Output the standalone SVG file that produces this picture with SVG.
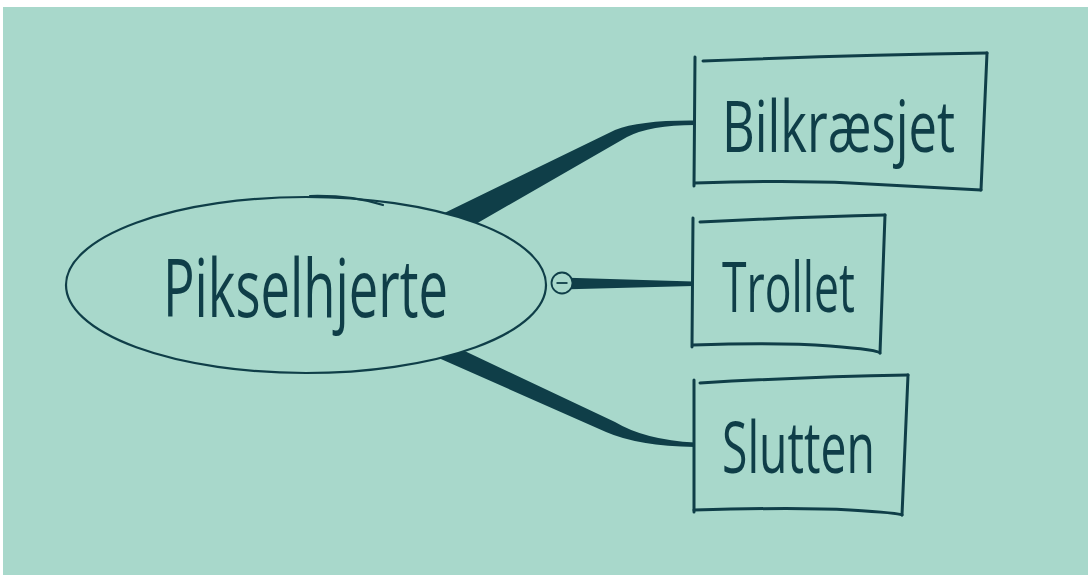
<svg xmlns="http://www.w3.org/2000/svg" width="1088" height="575" viewBox="0 0 1088 575">
<style>
.ln{fill:none;stroke:#0f3e48;stroke-width:3;stroke-linecap:round;stroke-linejoin:round}
.th{fill:none;stroke:#0f3e48;stroke-width:2.2;stroke-linecap:round}
.con{fill:#0f3e48;stroke:none}
.lbl{font-family:"Open Sans","Liberation Sans",sans-serif;font-weight:400;fill:#0f3e48}
</style>
<rect x="0" y="0" width="1088" height="575" fill="#ffffff"/>
<rect x="3" y="7" width="1085" height="568" fill="#a8d8cb"/>
<g id="connectors">
<path class="con" d="M430,220 L615,130 Q640,120 695,120.5 L695,125 Q650,125 627,137 L455,236 Z"/>
<path class="con" d="M560,277.5 L693,281.5 L693,286 L560,289.5 Z"/>
<path class="con" d="M433,336 L615,422 Q645,440 695,442.5 L695,447 Q638,446 606,432 L425,352 Z"/>
</g>
<g id="root">
<ellipse cx="306" cy="285" rx="240" ry="88" fill="#a8d8cb" stroke="#0f3e48" stroke-width="2.2"/>
<path class="th" d="M310,196 Q352,195 383,205"/>
<text class="lbl" x="163" y="317" font-size="80" textLength="285" lengthAdjust="spacingAndGlyphs">Pikselhjerte</text>
<circle cx="562" cy="283" r="10.5" fill="#a8d8cb" stroke="#0f3e48" stroke-width="1.8"/>
<line x1="556.5" y1="283" x2="567.5" y2="283" stroke="#0f3e48" stroke-width="1.8"/>
</g>
<g id="n1">
<path class="ln" d="M695,57 L694,186"/>
<path class="ln" d="M703,61 Q850,55 987,53"/>
<path class="ln" d="M987,53 L981,190"/>
<path class="ln" d="M695,183 Q790,180 850,183 T981,190"/>
<text class="lbl" x="722" y="152" font-size="72" textLength="233" lengthAdjust="spacingAndGlyphs">Bilkræsjet</text>
</g>
<g id="n2">
<path class="ln" d="M693,218 L692,347"/>
<path class="ln" d="M700,222 Q800,217 885,215"/>
<path class="ln" d="M885,215 L880,353"/>
<path class="ln" d="M693,345 Q780,342 830,346 T880,353"/>
<text class="lbl" x="722" y="312" font-size="69" textLength="133" lengthAdjust="spacingAndGlyphs">Trollet</text>
</g>
<g id="n3">
<path class="ln" d="M694,380 L694,512"/>
<path class="ln" d="M700,383 Q800,377 908,375"/>
<path class="ln" d="M908,375 L902,515"/>
<path class="ln" d="M694,510 Q800,507 850,510 T902,515"/>
<text class="lbl" x="722" y="473" font-size="71" textLength="153" lengthAdjust="spacingAndGlyphs">Slutten</text>
</g>
</svg>
